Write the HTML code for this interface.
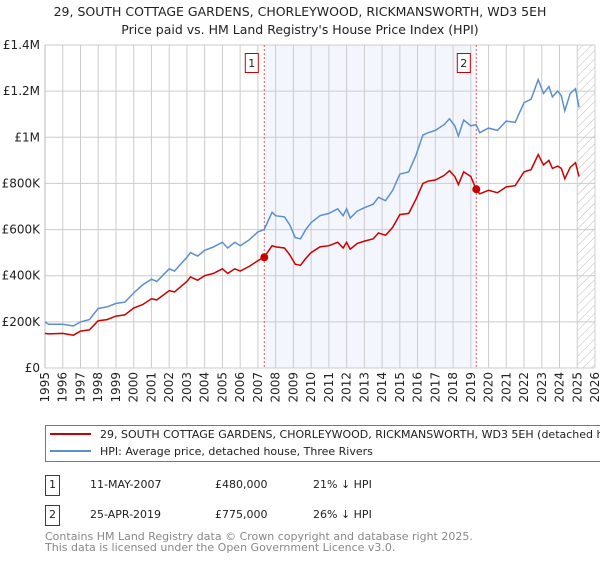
<!DOCTYPE html>
<html><head><meta charset="utf-8"><style>
body{margin:0;background:#fff;font-family:"DejaVu Sans","Liberation Sans",sans-serif;}
svg text{font-family:"DejaVu Sans","Liberation Sans",sans-serif;}
</style></head><body>
<svg id="chart" width="600" height="560" xmlns="http://www.w3.org/2000/svg">
<defs><pattern id="hatch" width="6" height="6" patternUnits="userSpaceOnUse" patternTransform="rotate(45)"><line x1="0" y1="0" x2="0" y2="6" stroke="#bbb" stroke-width="1"/></pattern></defs>
<text x="300" y="16" text-anchor="middle" font-size="12.5" fill="#222">29, SOUTH COTTAGE GARDENS, CHORLEYWOOD, RICKMANSWORTH, WD3 5EH</text>
<text x="300" y="34" text-anchor="middle" font-size="12.5" fill="#222">Price paid vs. HM Land Registry's House Price Index (HPI)</text>
<g id="plot"></g>
<g>
<rect x="45.5" y="425.5" width="570" height="36" fill="#fff" stroke="#777"/>
<line x1="50" y1="434" x2="91" y2="434" stroke="#cc0000" stroke-width="2"/>
<text x="100" y="438" font-size="11" fill="#222">29, SOUTH COTTAGE GARDENS, CHORLEYWOOD, RICKMANSWORTH, WD3 5EH (detached house)</text>
<line x1="50" y1="451" x2="91" y2="451" stroke="#5b8fd0" stroke-width="2"/>
<text x="100" y="455" font-size="11" fill="#222">HPI: Average price, detached house, Three Rivers</text>
</g>
<g>
<rect x="45.5" y="475.5" width="14" height="20" fill="#fff" stroke="#cc0000"/>
<text x="52.5" y="488" text-anchor="middle" font-size="11" fill="#222">1</text>
<text x="90" y="488" font-size="11" fill="#222">11-MAY-2007</text>
<text x="215" y="488" font-size="11" fill="#222">£480,000</text>
<text x="313" y="488" font-size="11" fill="#222">21% ↓ HPI</text>
<rect x="45.5" y="505.5" width="14" height="20" fill="#fff" stroke="#cc0000"/>
<text x="52.5" y="518" text-anchor="middle" font-size="11" fill="#222">2</text>
<text x="90" y="518" font-size="11" fill="#222">25-APR-2019</text>
<text x="215" y="518" font-size="11" fill="#222">£775,000</text>
<text x="313" y="518" font-size="11" fill="#222">26% ↓ HPI</text>
</g>
<text x="45" y="540" font-size="11" fill="#888">Contains HM Land Registry data © Crown copyright and database right 2025.</text>
<text x="45" y="551" font-size="11" fill="#888">This data is licensed under the Open Government Licence v3.0.</text>
</svg>
<script>
const yTicks=[0,200000,400000,600000,800000,1000000,1200000,1400000];
const yTickLabels=["£0","£200K","£400K","£600K","£800K","£1M","£1.2M","£1.4M"];
const xYears=[1995,1996,1997,1998,1999,2000,2001,2002,2003,2004,2005,2006,2007,2008,2009,2010,2011,2012,2013,2014,2015,2016,2017,2018,2019,2020,2021,2022,2023,2024,2025,2026];
const hpiT=[1995,1995.2,1996,1996.6,1997,1997.5,1998,1998.5,1999,1999.5,2000,2000.5,2001,2001.3,2002,2002.3,2003,2003.2,2003.6,2004,2004.5,2005,2005.3,2005.7,2006,2006.5,2007,2007.35,2007.8,2008,2008.5,2008.8,2009.1,2009.4,2009.7,2010,2010.5,2011,2011.5,2011.8,2012,2012.2,2012.6,2013,2013.5,2013.8,2014.2,2014.6,2015,2015.5,2015.9,2016.3,2016.6,2017,2017.5,2017.8,2018.1,2018.3,2018.6,2019,2019.3,2019.5,2020,2020.5,2021,2021.5,2022,2022.4,2022.8,2023.1,2023.4,2023.6,2023.9,2024.1,2024.3,2024.6,2024.9,2025.1];
const hpiV=[200,190,190,182,200,210,258,265,280,285,325,360,385,375,430,420,480,500,485,510,525,545,520,545,530,555,590,600,675,660,655,620,565,560,600,630,660,670,690,660,690,650,680,695,710,740,725,770,840,850,920,1010,1020,1030,1055,1080,1050,1005,1075,1050,1055,1020,1040,1030,1070,1065,1150,1165,1250,1190,1220,1175,1200,1180,1115,1190,1210,1130];
const priceT=hpiT;
const priceV=[150,148,150,142,160,165,205,210,225,230,260,275,300,295,335,330,375,395,380,400,410,430,410,430,420,440,465,480,530,525,520,490,450,445,475,500,525,530,545,520,545,515,540,550,560,585,575,610,665,670,730,800,810,815,835,855,830,795,850,830,775,755,770,760,785,790,850,860,925,880,900,865,875,865,820,870,890,830];
const saleT=[2007.36,2019.31];
const saleV=[480000,775000];
const saleLabels=["1","2"];
const L=45,R=595,T=45,B=368;
const x=t=>L+(t-1995)/(2026-1995)*(R-L);
const y=v=>B-v/1400000*(B-T);
const NS="http://www.w3.org/2000/svg";
const g=document.getElementById('plot');
function mk(tag,attrs,parent){const e=document.createElementNS(NS,tag);for(const k in attrs)e.setAttribute(k,attrs[k]);(parent||g).appendChild(e);return e;}
let e;
e=mk('rect',{x:x(saleT[0]),y:T,width:x(saleT[1])-x(saleT[0]),height:B-T,fill:'#eef3fc',opacity:0.7});


e=mk('rect',{x:x(2025),y:T,width:R-x(2025),height:B-T,fill:'url(#hatch)'});


xYears.forEach(yr=>{
 e=mk('line',{x1:x(yr),y1:T,x2:x(yr),y2:B,stroke:'#ccc','stroke-width':1});
 
 
 e=mk('text',{x:0,y:0,'font-size':12,fill:'#222','text-anchor':'end',transform:`translate(${x(yr)+4},${B+4}) rotate(-90)`});
 e.textContent=yr;
 
 
});
yTicks.forEach((v,i)=>{
 e=mk('line',{x1:L,y1:y(v),x2:R,y2:y(v),stroke:'#ccc','stroke-width':1});
 
 
 e=mk('text',{x:L-5,y:y(v)+4,'font-size':12,fill:'#222','text-anchor':'end'});
 e.textContent=yTickLabels[i];
 
 
});
e=mk('line',{x1:L,y1:T,x2:L,y2:B,stroke:'#bbb'});


saleT.forEach((t,i)=>{
 e=mk('line',{x1:x(t),y1:T,x2:x(t),y2:B,stroke:'#e06060','stroke-dasharray':'2,2'});
 
 
 e=mk('rect',{x:x(t)-19,y:T+8.5,width:13,height:19,fill:'#fff',stroke:'#cc0000'});
 
 
 e=mk('text',{x:x(t)-12.5,y:T+22,'font-size':11,fill:'#222','text-anchor':'middle'});
 e.textContent=saleLabels[i];
 
 
});
const pts=(ts,vs)=>ts.map((t,i)=>x(t).toFixed(1)+','+y(vs[i]*1000).toFixed(1)).join(' ');
e=mk('polyline',{points:pts(hpiT,hpiV),fill:'none',stroke:'#5b8fd0','stroke-width':1.5});


e=mk('polyline',{points:pts(priceT,priceV),fill:'none',stroke:'#cc0000','stroke-width':1.5});


saleT.forEach((t,i)=>{
 e=mk('circle',{cx:x(t),cy:y(saleV[i]),r:4,fill:'#cc0000'});
 
 
});
</script>
</body></html>
